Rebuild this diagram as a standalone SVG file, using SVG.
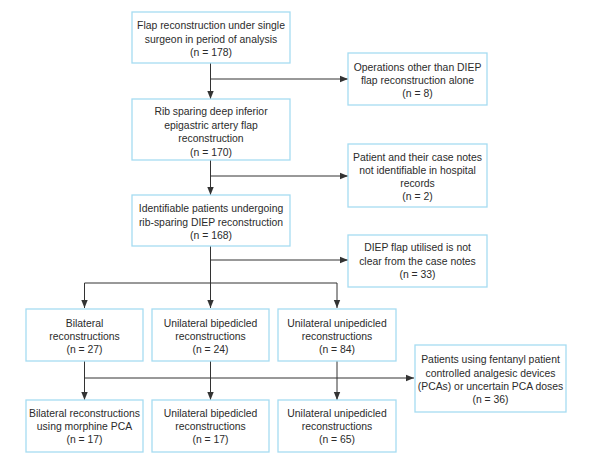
<svg xmlns="http://www.w3.org/2000/svg" width="594" height="461" viewBox="0 0 594 461">
<style>
rect.b{fill:#fff;stroke:#a6dcf2;stroke-width:1.3}
text{font-family:"Liberation Sans",Arial,sans-serif;font-size:10.4px;fill:#2b2b2b;text-anchor:middle}
.c path{fill:none;stroke:#333;stroke-width:1}
</style>
<defs>
<marker id="ah" viewBox="0 0 10 10" refX="10" refY="5" markerWidth="8" markerHeight="8" markerUnits="userSpaceOnUse" orient="auto">
<path d="M0,1 L10,5 L0,9 z" fill="#333"/>
</marker>
</defs>
<rect width="594" height="461" fill="#fff"/>
<g class="c" id="connectors">
<path d="M210.5,63 V99" marker-end="url(#ah)"/>
<path d="M210.5,79 H348" marker-end="url(#ah)"/>
<path d="M210.5,160 V195" marker-end="url(#ah)"/>
<path d="M210.5,176 H348" marker-end="url(#ah)"/>
<path d="M210.5,246 V308" marker-end="url(#ah)"/>
<path d="M210.5,260 H348" marker-end="url(#ah)"/>
<path d="M84.5,308 V283 H337 V308" marker-end="url(#ah)"/>
<path d="M84.5,283 V308" marker-end="url(#ah)"/>
<path d="M84.5,361 V400" marker-end="url(#ah)"/>
<path d="M210.5,361 V400" marker-end="url(#ah)"/>
<path d="M337,361 V400" marker-end="url(#ah)"/>
<path d="M84.5,378 H414" marker-end="url(#ah)"/>
</g>
<g id="n1"><rect class="b" x="132" y="12" width="158" height="51"/>
<text x="211" y="29">Flap reconstruction under single</text>
<text x="211" y="43">surgeon in period of analysis</text>
<text x="211" y="56">(n = 178)</text></g>
<g id="n2"><rect class="b" x="348" y="53" width="139" height="52"/>
<text x="417.5" y="71">Operations other than DIEP</text>
<text x="417.5" y="84">flap reconstruction alone</text>
<text x="417.5" y="97">(n = 8)</text></g>
<g id="n3"><rect class="b" x="132" y="99" width="158" height="61"/>
<text x="211" y="115">Rib sparing deep inferior</text>
<text x="211" y="129">epigastric artery flap</text>
<text x="211" y="142">reconstruction</text>
<text x="211" y="156">(n = 170)</text></g>
<g id="n4"><rect class="b" x="348" y="144" width="139" height="63"/>
<text x="417.5" y="161">Patient and their case notes</text>
<text x="417.5" y="174">not identifiable in hospital</text>
<text x="417.5" y="187">records</text>
<text x="417.5" y="200">(n = 2)</text></g>
<g id="n5"><rect class="b" x="132" y="195" width="158" height="51"/>
<text x="211" y="212">Identifiable patients undergoing</text>
<text x="211" y="226">rib-sparing DIEP reconstruction</text>
<text x="211" y="239">(n = 168)</text></g>
<g id="n6"><rect class="b" x="348" y="235" width="139" height="52"/>
<text x="417.5" y="251">DIEP flap utilised is not</text>
<text x="417.5" y="265">clear from the case notes</text>
<text x="417.5" y="278">(n = 33)</text></g>
<g id="n7"><rect class="b" x="26" y="309" width="117" height="52"/>
<text x="84.5" y="327">Bilateral</text>
<text x="84.5" y="340">reconstructions</text>
<text x="84.5" y="353">(n = 27)</text></g>
<g id="n8"><rect class="b" x="152" y="309" width="117" height="52"/>
<text x="210.5" y="327">Unilateral bipedicled</text>
<text x="210.5" y="340">reconstructions</text>
<text x="210.5" y="353">(n = 24)</text></g>
<g id="n9"><rect class="b" x="278" y="309" width="118" height="52"/>
<text x="337" y="327">Unilateral unipedicled</text>
<text x="337" y="340">reconstructions</text>
<text x="337" y="353">(n = 84)</text></g>
<g id="n10"><rect class="b" x="415" y="345" width="151" height="67"/>
<text x="490.5" y="363">Patients using fentanyl patient</text>
<text x="490.5" y="377">controlled analgesic devices</text>
<text x="490.5" y="390">(PCAs) or uncertain PCA doses</text>
<text x="490.5" y="403">(n = 36)</text></g>
<g id="n11"><rect class="b" x="26" y="400" width="117" height="52"/>
<text x="84.5" y="417">Bilateral reconstructions</text>
<text x="84.5" y="430">using morphine PCA</text>
<text x="84.5" y="443">(n = 17)</text></g>
<g id="n12"><rect class="b" x="152" y="400" width="117" height="52"/>
<text x="210.5" y="417">Unilateral bipedicled</text>
<text x="210.5" y="430">reconstructions</text>
<text x="210.5" y="443">(n = 17)</text></g>
<g id="n13"><rect class="b" x="278" y="400" width="118" height="52"/>
<text x="337" y="417">Unilateral unipedicled</text>
<text x="337" y="430">reconstructions</text>
<text x="337" y="443">(n = 65)</text></g>
</svg>
